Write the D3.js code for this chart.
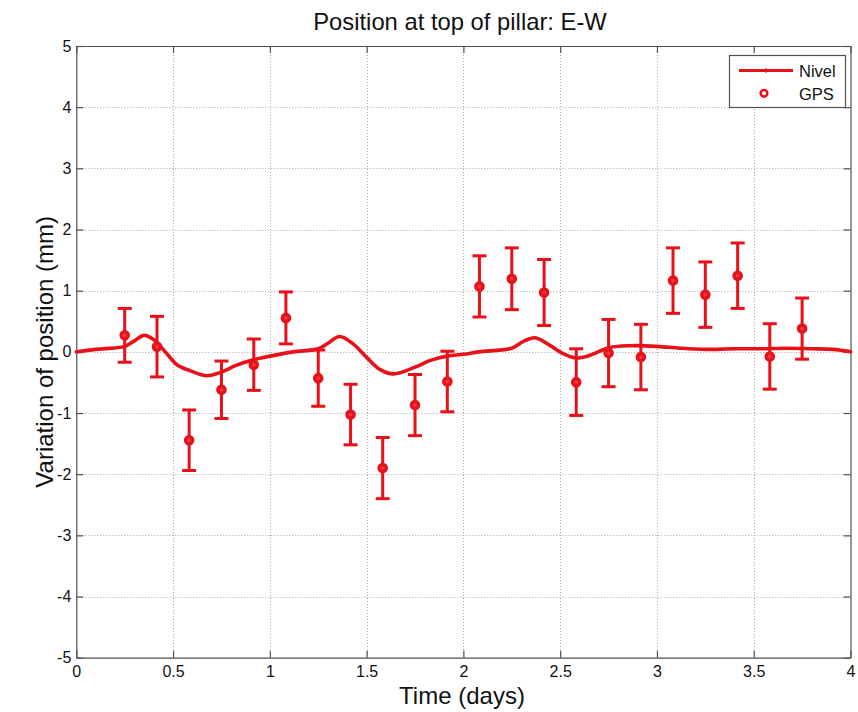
<!DOCTYPE html>
<html>
<head>
<meta charset="utf-8">
<script src="https://cdn.jsdelivr.net/npm/d3@7"></script>
<style>
  html, body { margin: 0; padding: 0; background: #fff; }
  svg { display: block; font-family: "Liberation Sans", Arial, Helvetica, sans-serif; }
</style>
</head>
<body>
<svg id="chart" width="858" height="712"></svg>
<script>
// Nivel tiltmeter trace (time in days, displacement in mm)
const nivelT = [0.00, 0.10, 0.25, 0.30, 0.35, 0.40, 0.46, 0.52, 0.59, 0.67, 0.75, 0.825, 0.915, 1.00,
  1.12, 1.25, 1.30, 1.36, 1.43, 1.50, 1.57, 1.64, 1.75, 1.83, 1.915, 2.00, 2.08, 2.25, 2.31, 2.37,
  2.445, 2.515, 2.58, 2.65, 2.755, 2.86, 3.00, 3.12, 3.255, 3.39, 3.53, 3.67, 3.80, 3.91, 4.00];
const nivelV = [0.00, 0.04, 0.09, 0.18, 0.27, 0.20, 0.00, -0.21, -0.31, -0.39, -0.33, -0.22, -0.13, -0.07,
  0.00, 0.05, 0.14, 0.25, 0.13, -0.09, -0.29, -0.36, -0.25, -0.14, -0.07, -0.04, 0.00, 0.06, 0.17, 0.23,
  0.11, -0.03, -0.10, -0.06, 0.07, 0.10, 0.09, 0.06, 0.04, 0.05, 0.05, 0.06, 0.05, 0.04, 0.00];

// GPS 4-hour solutions with their uncertainty (mm)
const gpsT = [0.250, 0.417, 0.583, 0.750, 0.917, 1.083, 1.250, 1.417, 1.583, 1.750, 1.917,
  2.083, 2.250, 2.417, 2.583, 2.750, 2.917, 3.083, 3.250, 3.417, 3.583, 3.750];
const gpsV = [0.27, 0.085, -1.445, -0.62, -0.21, 0.555, -0.43, -1.025, -1.90, -0.87, -0.485,
  1.07, 1.195, 0.97, -0.495, -0.02, -0.085, 1.165, 0.935, 1.245, -0.075, 0.38];
const gpsErr = [0.44, 0.495, 0.495, 0.47, 0.42, 0.425, 0.46, 0.495, 0.50, 0.50, 0.495,
  0.50, 0.505, 0.54, 0.545, 0.55, 0.535, 0.535, 0.535, 0.535, 0.535, 0.50];

const xTicks = [0, 0.5, 1, 1.5, 2, 2.5, 3, 3.5, 4];
const yTicks = [-5, -4, -3, -2, -1, 0, 1, 2, 3, 4, 5];

const titleText = "Position at top of pillar: E-W";
const xLabel = "Time (days)";
const yLabel = "Variation of position (mm)";
const legendLabels = ["Nivel", "GPS"];

const red = "#e8111a";
const axisColor = "#505050";

const svg = d3.select("#chart");
const L = 76.3, R = 850.5, T = 46, B = 657.7;

const x = d3.scaleLinear().domain([0, 4]).range([L, R]);
const y = d3.scaleLinear().domain([-5, 5]).range([B, T]);

// dotted grid
const grid = svg.append("g").attr("stroke", "#a8a8a8").attr("stroke-width", 1).attr("stroke-dasharray", "1,2");
grid.selectAll(".gx").data(xTicks.slice(1, -1)).join("line")
  .attr("x1", d => Math.round(x(d)) + 0.5).attr("x2", d => Math.round(x(d)) + 0.5)
  .attr("y1", T).attr("y2", B);
grid.selectAll(".gy").data(yTicks.slice(1, -1)).join("line")
  .attr("y1", d => Math.round(y(d)) + 0.5).attr("y2", d => Math.round(y(d)) + 0.5)
  .attr("x1", L).attr("x2", R);

// axes with inward ticks on all four sides
const tickLen = 7;
const fmt = d => String(d);
const styleAxis = g => {
  g.attr("font-size", null).attr("font-family", null);
  g.select(".domain").attr("stroke", axisColor).attr("stroke-width", 1.2);
  g.selectAll(".tick line").attr("stroke", axisColor).attr("stroke-width", 1.2);
  g.selectAll("text").attr("fill", "#111").style("font-size", "16px")
    .style("font-family", "'Liberation Sans', Arial, sans-serif");
};
svg.append("g").attr("transform", `translate(0,${B})`)
  .call(d3.axisBottom(x).tickValues(xTicks).tickFormat(fmt).tickSizeInner(-tickLen).tickSizeOuter(0).tickPadding(8))
  .call(styleAxis);
svg.append("g").attr("transform", `translate(0,${T})`)
  .call(d3.axisTop(x).tickValues(xTicks).tickFormat("").tickSizeInner(-tickLen).tickSizeOuter(0))
  .call(styleAxis);
svg.append("g").attr("transform", `translate(${L},0)`)
  .call(d3.axisLeft(y).tickValues(yTicks).tickFormat(fmt).tickSizeInner(-tickLen).tickSizeOuter(0).tickPadding(5))
  .call(styleAxis);
svg.append("g").attr("transform", `translate(${R},0)`)
  .call(d3.axisRight(y).tickValues(yTicks).tickFormat("").tickSizeInner(-tickLen).tickSizeOuter(0))
  .call(styleAxis);

// Nivel curve
const nivel = nivelT.map((t, i) => [t, nivelV[i]]);
svg.append("path").datum(nivel)
  .attr("fill", "none").attr("stroke", red).attr("stroke-width", 3.6)
  .attr("stroke-linejoin", "round").attr("stroke-linecap", "round")
  .attr("d", d3.line().x(d => x(d[0])).y(d => y(d[1])).curve(d3.curveCatmullRom.alpha(0.5)));

// GPS error bars and markers
const gps = gpsT.map((t, i) => ({ t, v: gpsV[i], e: gpsErr[i] }));
const capHalf = 7;
const eb = svg.append("g").attr("stroke", red).attr("stroke-width", 3).attr("fill", "none");
eb.selectAll(".stem").data(gps).join("line")
  .attr("x1", d => x(d.t)).attr("x2", d => x(d.t))
  .attr("y1", d => y(d.v + d.e)).attr("y2", d => y(d.v - d.e));
eb.selectAll(".capTop").data(gps).join("line")
  .attr("x1", d => x(d.t) - capHalf).attr("x2", d => x(d.t) + capHalf)
  .attr("y1", d => y(d.v + d.e)).attr("y2", d => y(d.v + d.e));
eb.selectAll(".capBot").data(gps).join("line")
  .attr("x1", d => x(d.t) - capHalf).attr("x2", d => x(d.t) + capHalf)
  .attr("y1", d => y(d.v - d.e)).attr("y2", d => y(d.v - d.e));
eb.selectAll("circle").data(gps).join("circle")
  .attr("cx", d => x(d.t)).attr("cy", d => y(d.v)).attr("r", 3.6)
  .attr("stroke-width", 3.4).attr("fill", "#ee3a40");

// title and axis labels
svg.append("text").attr("x", 460).attr("y", 30).attr("text-anchor", "middle")
  .style("font-size", "23.8px").attr("fill", "#111").text(titleText);
svg.append("text").attr("x", 462).attr("y", 704).attr("text-anchor", "middle")
  .style("font-size", "24px").attr("fill", "#111").text(xLabel);
svg.append("text").attr("transform", `translate(53,${(T + B) / 2}) rotate(-90)`).attr("text-anchor", "middle")
  .style("font-size", "24px").attr("fill", "#111").text(yLabel);

// legend
const lg = svg.append("g");
lg.append("rect").attr("x", 729.5).attr("y", 55.5).attr("width", 116).attr("height", 52)
  .attr("fill", "#fff").attr("stroke", axisColor).attr("stroke-width", 1.2);
lg.append("line").attr("x1", 739).attr("x2", 793).attr("y1", 70.5).attr("y2", 70.5)
  .attr("stroke", red).attr("stroke-width", 3);
lg.append("line").attr("x1", 766).attr("x2", 766).attr("y1", 68).attr("y2", 73)
  .attr("stroke", red).attr("stroke-width", 1);
lg.append("circle").attr("cx", 764).attr("cy", 93.3).attr("r", 3.3)
  .attr("fill", "#fff").attr("stroke", red).attr("stroke-width", 2.6);
lg.selectAll(".lt").data(legendLabels).join("text")
  .attr("x", 799).attr("y", (d, i) => i === 0 ? 76.5 : 99.5)
  .style("font-size", "16.5px").attr("fill", "#111").text(d => d);
</script>
</body>
</html>
